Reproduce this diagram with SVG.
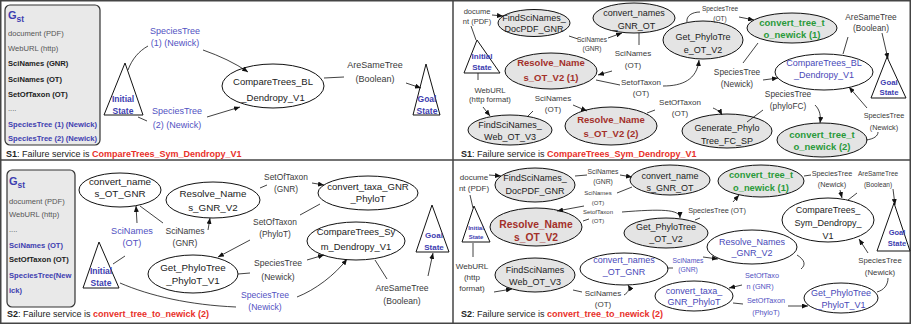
<svg xmlns="http://www.w3.org/2000/svg" width="911" height="324" viewBox="0 0 911 324">
<defs>
<marker id="ah" markerWidth="6" markerHeight="5" refX="6" refY="2.5" orient="auto" markerUnits="userSpaceOnUse"><path d="M0,0 L6,2.5 L0,5 z" fill="#111"/></marker>
<style>
text{font-family:"Liberation Sans",Arial,Helvetica,sans-serif;fill:#222}
.m{text-anchor:middle}
.e{fill:#fff;stroke:#111;stroke-width:1}
.eg{fill:#e4e4e4;stroke:#111;stroke-width:1}
.tri{fill:#fff;stroke:#111;stroke-width:1}
.c{fill:none;stroke:#111;stroke-width:0.8}
.a{marker-end:url(#ah)}
.st{font-weight:bold;fill:#3d3db0}
.lb{fill:#3a3a3a}
.bl{fill:#5252c2}
.nb{fill:#4848b8}
.rd{font-weight:bold;fill:#a3302a}
.gr{font-weight:bold;fill:#2a9a3a}
.box{fill:#e9e9e9;stroke:#333;stroke-width:1.2}
.bx{font-size:7.6px}
.bxg{fill:#555}
.bxb{font-weight:bold;fill:#222}
.bxu{font-weight:bold;fill:#4040b0}
.cap{font-size:9px}
.capr{font-weight:bold;fill:#e8302a}
</style>
</defs>
<rect x="0" y="0" width="911" height="324" fill="#fff"/>
<g id="frame" fill="none" stroke="#444" stroke-width="1.5">
<rect x="0.75" y="0.75" width="909.5" height="322.5"/>
<line x1="453" y1="0" x2="453" y2="324"/>
<line x1="0" y1="160" x2="911" y2="160"/>
</g>

<!-- ===== Panel S1 left ===== -->
<g id="s1a-gst">
<rect class="box" x="5" y="5" width="95" height="140" rx="5"/>
<text x="8" y="19" style="font-size:11px;font-weight:bold;fill:#3d3db0">G<tspan dy="3" style="font-size:8.5px">st</tspan></text>
<text class="bx bxg" x="8" y="36">document (PDF)</text>
<text class="bx bxg" x="8" y="51">WebURL (http)</text>
<text class="bx bxb" x="8" y="66">SciNames (GNR)</text>
<text class="bx bxb" x="8" y="82">SciNames (OT)</text>
<text class="bx bxb" x="8" y="97">SetOfTaxon (OT)</text>
<text class="bx bxg" x="8" y="111">....</text>
<text class="bx bxu" x="8" y="127">SpeciesTree (1) (Newick)</text>
<text class="bx bxu" x="8" y="141">SpeciesTree (2) (Newick)</text>
</g>
<g id="s1a-initial">
<polygon class="tri" points="125,63 104,115 143,115"/>
<text class="m st" x="123" y="102" style="font-size:8.5px">Initial</text>
<text class="m st" x="123" y="114" style="font-size:8.5px">State</text>
</g>
<g id="s1a-compare">
<ellipse class="e" cx="273" cy="86" rx="51" ry="22"/>
<text class="m" x="273" y="85" style="font-size:9.5px">CompareTrees_BL</text>
<text class="m" x="273" y="101" style="font-size:9.5px">_Dendropy_V1</text>
</g>
<g id="s1a-goal">
<polygon class="tri" points="426,64 413,115 440,115"/>
<text class="m st" x="427" y="102" style="font-size:8.5px">Goal</text>
<text class="m st" x="427" y="114" style="font-size:8.5px">State</text>
</g>
<g id="s1a-connectors">
<path class="c" d="M128,70 C132,59 139,51 148,46"/>
<path class="c a" d="M203,50 C220,56 235,63 248,72"/>
<path class="c" d="M138,117 L147,121"/>
<path class="c a" d="M207,117 L240,107"/>
<path class="c" d="M324,78 L344,77"/>
<path class="c a" d="M406,83 L421,88"/>
<text class="m bl" x="175" y="34" style="font-size:9px">SpeciesTree</text>
<text class="m bl" x="175" y="46" style="font-size:9px">(1) (Newick)</text>
<text class="m bl" x="177" y="114" style="font-size:9px">SpeciesTree</text>
<text class="m bl" x="177" y="128" style="font-size:9px">(2) (Newick)</text>
<text class="m lb" x="375" y="68" style="font-size:9px">AreSameTree</text>
<text class="m lb" x="375" y="82" style="font-size:9px">(Boolean)</text>
</g>
<text class="cap" x="6" y="157"><tspan font-weight="bold">S1</tspan>: Failure service is <tspan class="capr">CompareTrees_Sym_Dendropy_V1</tspan></text>

<!-- ===== Panel S1 right ===== -->
<g id="s1b-initial">
<polygon class="tri" points="477,40 464,73 500,73"/>
<text class="m st" x="482" y="59" style="font-size:8px">Initial</text>
<text class="m st" x="482" y="70" style="font-size:8px">State</text>
</g>
<g id="s1b-findpdf">
<ellipse class="eg" cx="534" cy="23" rx="36" ry="13.5"/>
<text class="m" x="534" y="21" style="font-size:9px">FindSciNames_</text>
<text class="m" x="534" y="32" style="font-size:9px">DocPDF_GNR</text>
</g>
<g id="s1b-convgnrot">
<ellipse class="eg" cx="634" cy="18" rx="41" ry="15"/>
<text class="m" x="634" y="16" style="font-size:9px">convert_names</text>
<text class="m" x="634" y="29" style="font-size:9px">_GNR_OT</text>
</g>
<g id="s1b-getphylo">
<ellipse class="eg" cx="703" cy="40" rx="40" ry="19"/>
<text class="m" x="703" y="40" style="font-size:9px">Get_PhyloTre</text>
<text class="m" x="703" y="53" style="font-size:9px">e_OT_V2</text>
</g>
<g id="s1b-resolve1">
<ellipse class="eg" cx="551" cy="71" rx="46" ry="18"/>
<text class="m rd" x="551" y="66" style="font-size:9.5px">Resolve_Name</text>
<text class="m rd" x="551" y="81" style="font-size:9.5px">s_OT_V2 (1)</text>
</g>
<g id="s1b-resolve2">
<ellipse class="eg" cx="611" cy="126" rx="46" ry="19"/>
<text class="m rd" x="611" y="123" style="font-size:9.5px">Resolve_Name</text>
<text class="m rd" x="611" y="137" style="font-size:9.5px">s_OT_V2 (2)</text>
</g>
<g id="s1b-findweb">
<ellipse class="eg" cx="510" cy="130" rx="42" ry="15"/>
<text class="m" x="510" y="128" style="font-size:9px">FindSciNames_</text>
<text class="m" x="510" y="140" style="font-size:9px">Web_OT_V3</text>
</g>
<g id="s1b-generate">
<ellipse class="eg" cx="727" cy="131" rx="45" ry="17"/>
<text class="m" x="727" y="131" style="font-size:9px">Generate_Phylo</text>
<text class="m" x="727" y="144" style="font-size:9px">Tree_FC_SP</text>
</g>
<g id="s1b-ctn1">
<ellipse class="eg" cx="792" cy="28" rx="45" ry="15"/>
<text class="m gr" x="792" y="26" style="font-size:9.5px">convert_tree_t</text>
<text class="m gr" x="792" y="38" style="font-size:9.5px">o_newick (1)</text>
</g>
<g id="s1b-ctn2">
<ellipse class="eg" cx="822" cy="140" rx="45" ry="17"/>
<text class="m gr" x="822" y="138" style="font-size:9.5px">convert_tree_t</text>
<text class="m gr" x="822" y="150" style="font-size:9.5px">o_newick (2)</text>
</g>
<g id="s1b-compare">
<ellipse class="e" cx="824" cy="72" rx="49" ry="18"/>
<text class="m nb" x="824" y="66" style="font-size:9px">CompareTrees_BL</text>
<text class="m nb" x="824" y="78" style="font-size:9px">_Dendropy_V1</text>
</g>
<g id="s1b-goal">
<polygon class="tri" points="887,57 871,98 906,98"/>
<text class="m st" x="889" y="85" style="font-size:7.8px">Goal</text>
<text class="m st" x="889" y="95" style="font-size:7.8px">State</text>
</g>
<g id="s1b-connectors">
<path class="c" d="M471,26 L476,40"/>
<path class="c a" d="M492,15 L503,16"/>
<path class="c" d="M478,73 L478,80"/>
<path class="c a" d="M483,107 L490,116"/>
<path class="c" d="M569,36 L578,39"/>
<path class="c a" d="M608,38 L622,33"/>
<path class="c" d="M639,33 L639,45"/>
<path class="c a" d="M612,71 L598,75"/>
<path class="c" d="M596,80 L620,85"/>
<path class="c a" d="M663,86 C682,86 697,80 699,60"/>
<path class="c" d="M687,22 C686,16 692,12 700,12"/>
<path class="c a" d="M739,17 L754,20"/>
<path class="c" d="M758,43 L743,63"/>
<path class="c a" d="M763,80 L778,78"/>
<path class="c" d="M843,54 L848,37"/>
<path class="c a" d="M882,33 L888,59"/>
<path class="c" d="M747,122 L763,110"/>
<path class="c a" d="M815,105 C820,110 821,116 820,123"/>
<path class="c" d="M866,140 C874,139 878,136 878,132"/>
<path class="c a" d="M867,108 L849,87"/>
<path class="c" d="M647,113 L655,110"/>
<path class="c a" d="M713,108 C718,110 721,113 722,115"/>
<path class="c" d="M527,117 L533,111"/>
<path class="c a" d="M573,105 L587,111"/>
<text class="m lb" x="477" y="13.5" style="font-size:7.5px">docume</text>
<text class="m lb" x="477" y="24" style="font-size:7.5px">nt (PDF)</text>
<text class="m lb" x="490" y="93" style="font-size:7.7px">WebURL</text>
<text class="m lb" x="490" y="102" style="font-size:7.7px">(http format)</text>
<text class="m lb" x="592" y="41.5" style="font-size:6.6px">SciNames</text>
<text class="m lb" x="592" y="50.5" style="font-size:6.6px">(GNR)</text>
<text class="m lb" x="633" y="56" style="font-size:8px">SciNames</text>
<text class="m lb" x="633" y="68" style="font-size:8px">(OT)</text>
<text class="m lb" x="641" y="85" style="font-size:8px">SetofTaxon</text>
<text class="m lb" x="641" y="96" style="font-size:8px">(OT)</text>
<text class="m lb" x="720" y="10.5" style="font-size:6.5px">SpeciesTree</text>
<text class="m lb" x="720" y="21" style="font-size:6.5px">(OT)</text>
<text class="m lb" x="737" y="75" style="font-size:8.3px">SpeciesTree</text>
<text class="m lb" x="737" y="87" style="font-size:8.3px">(Newick)</text>
<text class="m lb" x="871" y="20" style="font-size:8.3px">AreSameTree</text>
<text class="m lb" x="871" y="31" style="font-size:8.3px">(Boolean)</text>
<text class="m lb" x="788" y="97" style="font-size:8.3px">SpeciesTree</text>
<text class="m lb" x="788" y="109" style="font-size:8.3px">(phyloFC)</text>
<text class="m lb" x="884" y="118" style="font-size:7.3px">SpeciesTree</text>
<text class="m lb" x="884" y="130" style="font-size:7.3px">(Newick)</text>
<text class="m lb" x="680" y="105" style="font-size:8px">SetOfTaxon</text>
<text class="m lb" x="680" y="116" style="font-size:8px">(OT)</text>
<text class="m lb" x="553" y="101" style="font-size:8px">SciNames</text>
<text class="m lb" x="553" y="112" style="font-size:8px">(OT)</text>
</g>
<text class="cap" x="461" y="157"><tspan font-weight="bold">S1</tspan>: Failure service is <tspan class="capr">CompareTrees_Sym_Dendropy_V1</tspan></text>

<!-- ===== Panel S2 left ===== -->
<g id="s2a-gst">
<rect class="box" x="7" y="170" width="68" height="137" rx="5"/>
<text x="9" y="185" style="font-size:11px;font-weight:bold;fill:#3d3db0">G<tspan dy="3" style="font-size:8.5px">st</tspan></text>
<text class="bx bxg" x="9" y="204">document (PDF)</text>
<text class="bx bxg" x="9" y="217">WebURL (http)</text>
<text class="bx bxg" x="9" y="232">....</text>
<text class="bx bxu" x="9" y="248">SciNames (OT)</text>
<text class="bx bxb" x="9" y="262">SetOfTaxon (OT)</text>
<text class="bx bxu" x="9" y="278">SpeciesTree(New</text>
<text class="bx bxu" x="9" y="293">ick)</text>
</g>
<g id="s2a-initial">
<polygon class="tri" points="99,242 83,288 119,288"/>
<text class="m st" x="101" y="274" style="font-size:8.5px">Initial</text>
<text class="m st" x="101" y="286" style="font-size:8.5px">State</text>
</g>
<g id="s2a-convotgnr">
<ellipse class="e" cx="120" cy="190" rx="41" ry="17"/>
<text class="m" x="120" y="185" style="font-size:9.8px">convert_name</text>
<text class="m" x="120" y="197" style="font-size:9.8px">s_OT_GNR</text>
</g>
<g id="s2a-resolve">
<ellipse class="e" cx="213" cy="200" rx="47" ry="18"/>
<text class="m" x="213" y="197" style="font-size:9.8px">Resolve_Name</text>
<text class="m" x="213" y="211" style="font-size:9.8px">s_GNR_V2</text>
</g>
<g id="s2a-convtaxa">
<ellipse class="e" cx="368" cy="193" rx="50" ry="17"/>
<text class="m" x="368" y="190" style="font-size:9.6px">convert_taxa_GNR</text>
<text class="m" x="368" y="202" style="font-size:9.6px">_PhyloT</text>
</g>
<g id="s2a-compare">
<ellipse class="e" cx="356" cy="241" rx="49" ry="19"/>
<text class="m" x="356" y="235" style="font-size:9.4px">CompareTrees_Sy</text>
<text class="m" x="356" y="250" style="font-size:9.4px">m_Dendropy_V1</text>
</g>
<g id="s2a-getphylo">
<ellipse class="e" cx="193" cy="274" rx="45" ry="19"/>
<text class="m" x="193" y="271" style="font-size:9.8px">Get_PhyloTree</text>
<text class="m" x="193" y="284" style="font-size:9.8px">_PhyloT_V1</text>
</g>
<g id="s2a-goal">
<polygon class="tri" points="432,205 416,252 449,252"/>
<text class="m st" x="434" y="238" style="font-size:8px">Goal</text>
<text class="m st" x="434" y="250" style="font-size:8px">State</text>
</g>
<g id="s2a-connectors">
<path class="c" d="M113,264 L125,256"/>
<path class="c a" d="M137,223 L136,206"/>
<path class="c" d="M140,206 L163,223"/>
<path class="c a" d="M208,230 L210,218"/>
<path class="c" d="M260,188 L267,185"/>
<path class="c a" d="M312,183 L324,185"/>
<path class="c" d="M320,204 L300,215"/>
<path class="c a" d="M250,240 L218,257"/>
<path class="c" d="M238,274 L250,273"/>
<path class="c a" d="M307,260 L324,255"/>
<path class="c" d="M120,283 C150,296 190,305 236,307"/>
<path class="c a" d="M297,297 C315,290 335,275 347,259"/>
<path class="c" d="M375,260 L387,279"/>
<path class="c a" d="M428,276 L433,253"/>
<text class="m bl" x="132" y="234" style="font-size:9.2px">SciNames</text>
<text class="m bl" x="132" y="246" style="font-size:9.2px">(OT)</text>
<text class="m lb" x="185" y="234" style="font-size:8.6px">SciNames</text>
<text class="m lb" x="185" y="246" style="font-size:8.6px">(GNR)</text>
<text class="m lb" x="286" y="180" style="font-size:8.4px">SetOfTaxon</text>
<text class="m lb" x="286" y="192" style="font-size:8.4px">(GNR)</text>
<text class="m lb" x="275" y="225" style="font-size:8.4px">SetOfTaxon</text>
<text class="m lb" x="275" y="237" style="font-size:8.4px">(PhyloT)</text>
<text class="m lb" x="278" y="266" style="font-size:8.6px">SpeciesTree</text>
<text class="m lb" x="278" y="280" style="font-size:8.6px">(Newick)</text>
<text class="m bl" x="265" y="298" style="font-size:8.6px">SpeciesTree</text>
<text class="m bl" x="265" y="310" style="font-size:8.6px">(Newick)</text>
<text class="m lb" x="402" y="291" style="font-size:8.6px">AreSameTree</text>
<text class="m lb" x="402" y="304" style="font-size:8.6px">(Boolean)</text>
</g>
<text class="cap" x="7" y="317"><tspan font-weight="bold">S2</tspan>: Failure service is <tspan class="capr">convert_tree_to_newick (2)</tspan></text>

<!-- ===== Panel S2 right ===== -->
<g id="s2b-initial">
<polygon class="tri" points="474,206 462,242 490,242"/>
<text class="m st" x="476" y="230" style="font-size:6px">Initial</text>
<text class="m st" x="476" y="239" style="font-size:6px">State</text>
</g>
<g id="s2b-findpdf">
<ellipse class="eg" cx="535" cy="185" rx="40" ry="17"/>
<text class="m" x="535" y="181" style="font-size:9px">FindSciNames_</text>
<text class="m" x="535" y="194" style="font-size:9px">DocPDF_GNR</text>
</g>
<g id="s2b-convgnrot">
<ellipse class="eg" cx="670" cy="180" rx="40" ry="15"/>
<text class="m" x="670" y="179" style="font-size:9px">convert_name</text>
<text class="m" x="670" y="191" style="font-size:9px">s_GNR_OT</text>
</g>
<g id="s2b-ctn1">
<ellipse class="eg" cx="761" cy="181" rx="43" ry="16"/>
<text class="m gr" x="761" y="178" style="font-size:9.3px">convert_tree_t</text>
<text class="m gr" x="761" y="191" style="font-size:9.3px">o_newick (1)</text>
</g>
<g id="s2b-resolveot">
<ellipse class="eg" cx="536" cy="227" rx="46" ry="19"/>
<text class="m rd" x="536" y="228" style="font-size:10.3px">Resolve_Name</text>
<text class="m rd" x="536" y="241" style="font-size:10.3px">s_OT_V2</text>
</g>
<g id="s2b-getphylo-ot">
<ellipse class="eg" cx="666" cy="233" rx="42" ry="15"/>
<text class="m" x="666" y="230" style="font-size:9px">Get_PhyloTree</text>
<text class="m" x="666" y="242" style="font-size:9px">_OT_V2</text>
</g>
<g id="s2b-compare">
<ellipse class="e" cx="828" cy="220" rx="46" ry="22"/>
<text class="m" x="828" y="213" style="font-size:9px">CompareTrees_</text>
<text class="m" x="828" y="226" style="font-size:9px">Sym_Dendropy_</text>
<text class="m" x="828" y="239" style="font-size:9px">V1</text>
</g>
<g id="s2b-goal">
<polygon class="tri" points="894,203 877,251 910,251"/>
<text class="m st" x="897" y="235" style="font-size:7.5px">Goal</text>
<text class="m st" x="897" y="246" style="font-size:7.5px">State</text>
</g>
<g id="s2b-resolvegnr">
<ellipse class="e" cx="752" cy="247" rx="45" ry="17"/>
<text class="m nb" x="752" y="245" style="font-size:9px">Resolve_Names</text>
<text class="m nb" x="752" y="256" style="font-size:9px">_GNR_V2</text>
</g>
<g id="s2b-convotgnr">
<ellipse class="e" cx="624" cy="269" rx="44" ry="16"/>
<text class="m nb" x="624" y="263" style="font-size:9px">convert_names</text>
<text class="m nb" x="624" y="275" style="font-size:9px">_OT_GNR</text>
</g>
<g id="s2b-convtaxa">
<ellipse class="e" cx="694" cy="296" rx="39" ry="15"/>
<text class="m nb" x="694" y="294" style="font-size:9px">convert_taxa_</text>
<text class="m nb" x="694" y="305" style="font-size:9px">GNR_PhyloT</text>
</g>
<g id="s2b-getphylo-phylot">
<ellipse class="e" cx="841" cy="298" rx="37" ry="15"/>
<text class="m nb" x="841" y="296" style="font-size:9px">Get_PhyloTree</text>
<text class="m nb" x="841" y="308" style="font-size:9px">_PhyloT_V1</text>
</g>
<g id="s2b-findweb">
<ellipse class="eg" cx="535" cy="275" rx="40" ry="17"/>
<text class="m" x="535" y="273" style="font-size:9px">FindSciNames</text>
<text class="m" x="535" y="285" style="font-size:9px">Web_OT_V3</text>
</g>
<g id="s2b-connectors">
<path class="c" d="M470,195 L473,208"/>
<path class="c a" d="M489,175 L501,176"/>
<path class="c" d="M575,176 L587,175"/>
<path class="c a" d="M620,175 L632,177"/>
<path class="c" d="M632,187 L617,193"/>
<path class="c a" d="M584,206 L557,211"/>
<path class="c" d="M583,221 L589,219"/>
<path class="c a" d="M622,212 C660,209 680,209 680,218"/>
<path class="c" d="M695,220 L700,218"/>
<path class="c a" d="M733,202 L739,195"/>
<path class="c" d="M804,176 L811,175"/>
<path class="c a" d="M840,190 L842,198"/>
<path class="c" d="M848,200 L857,193"/>
<path class="c a" d="M893,189 L895,205"/>
<path class="c a" d="M868,253 L859,239"/>
<path class="c" d="M877,292 C884,290 888,285 888,278"/>
<path class="c" d="M797,255 C805,260 806,265 801,269"/>
<path class="c a" d="M742,285 L729,288"/>
<path class="c" d="M733,303 L743,304"/>
<path class="c a" d="M788,306 L808,306"/>
<path class="c" d="M667,268 L673,268"/>
<path class="c a" d="M703,257 L718,259"/>
<path class="c" d="M473,243 L473,257"/>
<path class="c a" d="M494,292 L512,289"/>
<path class="c" d="M573,290 L582,292"/>
<path class="c a" d="M624,295 C629,292 630,288 628,285"/>
<text class="m lb" x="474" y="180" style="font-size:8px">docume</text>
<text class="m lb" x="474" y="191" style="font-size:8px">nt (PDF)</text>
<text class="m lb" x="603" y="173.5" style="font-size:6.8px">SciNames</text>
<text class="m lb" x="603" y="183.5" style="font-size:6.8px">(GNR)</text>
<text class="m lb" x="598" y="195" style="font-size:6px">SciNames</text>
<text class="m lb" x="598" y="205" style="font-size:6px">(OT)</text>
<text class="m lb" x="598" y="214" style="font-size:6px">SetofTaxon</text>
<text class="m lb" x="598" y="223" style="font-size:6px">(OT)</text>
<text class="m lb" x="717" y="212.5" style="font-size:7.3px">SpeciesTree (OT)</text>
<text class="m lb" x="832" y="175.5" style="font-size:7.3px">SpeciesTree</text>
<text class="m lb" x="832" y="186.5" style="font-size:7.3px">(Newick)</text>
<text class="m lb" x="878" y="175.5" style="font-size:6.5px">AreSameTree</text>
<text class="m lb" x="878" y="186.5" style="font-size:6.5px">(Boolean)</text>
<text class="m lb" x="880" y="263" style="font-size:7.8px">SpeciesTree</text>
<text class="m lb" x="880" y="275" style="font-size:7.8px">(Newick)</text>
<text class="m bl" x="762" y="277.5" style="font-size:7.3px">SetOfTaxo</text>
<text class="m bl" x="760" y="288.5" style="font-size:7.3px">n (GNR)</text>
<text class="m bl" x="766" y="302.5" style="font-size:7.3px">SetOfTaxon</text>
<text class="m bl" x="766" y="314.5" style="font-size:7.3px">(PhyloT)</text>
<text class="m bl" x="688" y="262.5" style="font-size:6.8px">SciNames</text>
<text class="m bl" x="688" y="271.5" style="font-size:6.8px">(GNR)</text>
<text class="m lb" x="472" y="269" style="font-size:8.1px">WebURL</text>
<text class="m lb" x="472" y="280" style="font-size:8.1px">(http</text>
<text class="m lb" x="472" y="291" style="font-size:8.1px">format)</text>
<text class="m lb" x="603" y="296" style="font-size:8px">SciNames</text>
<text class="m lb" x="603" y="307" style="font-size:8px">(OT)</text>
</g>
<text class="cap" x="461" y="317"><tspan font-weight="bold">S2</tspan>: Failure service is <tspan class="capr">convert_tree_to_newick (2)</tspan></text>
</svg>
